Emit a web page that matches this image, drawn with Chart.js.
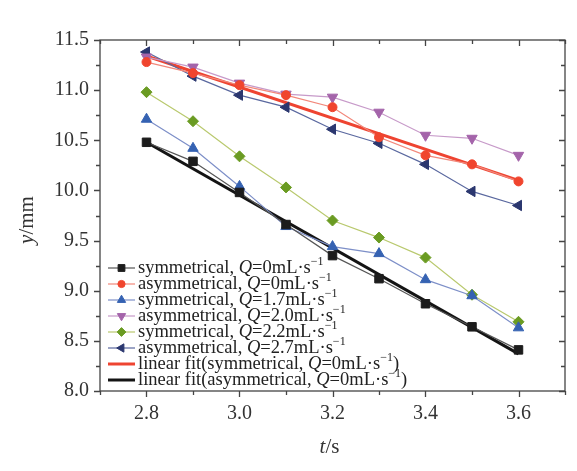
<!DOCTYPE html>
<html>
<head>
<meta charset="utf-8">
<script src="https://cdn.jsdelivr.net/npm/chart.js@4"></script>
<style>
  body { margin: 0; background: #fff; }
</style>
</head>
<body>
<canvas id="chart-0" width="577" height="471"></canvas>
<script>
// time axis (s)
var times = [2.8, 2.9, 3.0, 3.1, 3.2, 3.3, 3.4, 3.5, 3.6];
// y (mm) per case
var symQ0   = [10.48, 10.29, 9.98, 9.66, 9.35, 9.12, 8.87, 8.64, 8.41];
var asymQ0  = [11.28, 11.17, 11.05, 10.95, 10.83, 10.53, 10.35, 10.26, 10.09];
var symQ17  = [10.71, 10.42, 10.04, 9.64, 9.44, 9.37, 9.11, 8.95, 8.63];
var asymQ20 = [11.33, 11.23, 11.07, 10.96, 10.93, 10.78, 10.55, 10.52, 10.35];
var symQ22  = [10.98, 10.69, 10.34, 10.03, 9.70, 9.53, 9.33, 8.96, 8.69];
var asymQ27 = [11.38, 11.14, 10.95, 10.83, 10.61, 10.47, 10.26, 9.99, 9.85];
// linear fits, end points
var fitX    = [2.8, 3.6];
var fitSym  = [11.34, 10.10];
var fitAsym = [10.48, 8.37];

var seriesLabels = [
  "symmetrical, Q=0mL·s⁻¹",
  "asymmetrical, Q=0mL·s⁻¹",
  "symmetrical, Q=1.7mL·s⁻¹",
  "asymmetrical, Q=2.0mL·s⁻¹",
  "symmetrical, Q=2.2mL·s⁻¹",
  "asymmetrical, Q=2.7mL·s⁻¹",
  "linear fit(symmetrical, Q=0mL·s⁻¹)",
  "linear fit(asymmetrical, Q=0mL·s⁻¹)"
];

var SERIF = "'Liberation Serif', 'DejaVu Serif', serif";

function pts(xs, ys){
  return ys.map(function(y, i){ return {x: xs[i], y: y}; });
}

function markerSet(label, ys, lineCol, markCol, style, rot, r){
  return {
    label: label,
    data: pts(times, ys),
    showLine: true,
    borderColor: lineCol,
    borderWidth: 1.2,
    backgroundColor: markCol,
    pointBackgroundColor: markCol,
    pointBorderColor: markCol,
    pointBorderWidth: 1,
    pointStyle: style,
    pointRotation: rot || 0,
    pointRadius: r,
    tension: 0
  };
}

function fitSet(label, ys, col){
  return {
    label: label,
    data: pts(fitX, ys),
    showLine: true,
    borderColor: col,
    backgroundColor: col,
    borderWidth: 3,
    pointRadius: 0,
    isFit: true
  };
}

// text with italic Q / y / t and superscript -1
function splitRich(str){
  var out = [];
  str.split(/(Q|⁻¹|\by\b|\bt\b)/).forEach(function(p){
    if (!p) return;
    if (p === "⁻¹") out.push({t: "\u22121", sup: true});
    else if (p === "Q" || p === "y" || p === "t") out.push({t: p, italic: true});
    else out.push({t: p});
  });
  return out;
}

function setFont(ctx, p, size){
  ctx.font = (p.italic ? "italic " : "") + (p.sup ? Math.round(size * 0.65) : size) + "px " + SERIF;
}

function drawRich(ctx, str, x, y, size, align){
  var parts = splitRich(str);
  if (align === "center") {
    var w = 0;
    parts.forEach(function(p){ setFont(ctx, p, size); w += ctx.measureText(p.t).width; });
    x -= w / 2;
  }
  ctx.textBaseline = "middle";
  ctx.textAlign = "left";
  parts.forEach(function(p){
    setFont(ctx, p, size);
    ctx.fillText(p.t, x, p.sup ? y - size * 0.32 : y);
    x += ctx.measureText(p.t).width;
  });
}

var framePlugin = {
  id: "frame",
  afterDraw: function(chart){
    var ctx = chart.ctx, a = chart.chartArea;
    var xs = chart.scales.x, ys = chart.scales.y;
    ctx.save();
    ctx.strokeStyle = "#444";
    ctx.lineWidth = 1.3;
    ctx.strokeRect(a.left, a.top, a.right - a.left, a.bottom - a.top);
    ctx.beginPath();
    xs.ticks.forEach(function(t){
      var px = Math.round(xs.getPixelForValue(t.value)) + 0.5;
      var len = t.label !== "" ? 6 : 4;
      ctx.moveTo(px, a.bottom); ctx.lineTo(px, a.bottom + len);
      ctx.moveTo(px, a.top); ctx.lineTo(px, a.top + len);
    });
    ys.ticks.forEach(function(t){
      var py = Math.round(ys.getPixelForValue(t.value)) + 0.5;
      var len = t.label !== "" ? 6 : 4;
      ctx.moveTo(a.left - len, py); ctx.lineTo(a.left, py);
      ctx.moveTo(a.right - len, py); ctx.lineTo(a.right, py);
    });
    ctx.stroke();

    // axis titles
    ctx.fillStyle = "#333";
    drawRich(ctx, "t/s", (a.left + a.right) / 2 - 3, 447, 21, "center");
    ctx.save();
    ctx.translate(27, 220);
    ctx.rotate(-Math.PI / 2);
    drawRich(ctx, "y/mm", 0, 0, 21, "center");
    ctx.restore();

    // legend inside the plot
    var lx0 = 108, lx1 = 135, tx = 138, ly = 268, step = 16;
    chart.data.datasets.forEach(function(ds, i){
      var y = ly + i * step;
      ctx.strokeStyle = ds.borderColor;
      ctx.lineWidth = ds.isFit ? 3 : 1.2;
      ctx.beginPath();
      ctx.moveTo(lx0, y); ctx.lineTo(lx1, y);
      ctx.stroke();
      if (!ds.isFit) {
        ctx.fillStyle = ds.pointBackgroundColor;
        ctx.strokeStyle = ds.pointBorderColor;
        ctx.lineWidth = 1;
        Chart.helpers.drawPoint(ctx, {
          pointStyle: ds.pointStyle,
          rotation: ds.pointRotation,
          radius: ds.pointRadius * 0.8,
          borderWidth: 1
        }, (lx0 + lx1) / 2, y);
      }
      ctx.fillStyle = "#222";
      drawRich(ctx, ds.label, tx, y, 18.5);
    });
    ctx.restore();
  }
};

var datasets = [
  markerSet(seriesLabels[0], symQ0,   "#555555", "#1c1c1c", "rect", 0, 6),
  markerSet(seriesLabels[1], asymQ0,  "#f2877a", "#f0452e", "circle", 0, 4.5),
  markerSet(seriesLabels[2], symQ17,  "#7d8fc8", "#3562b2", "triangle", 0, 6),
  markerSet(seriesLabels[3], asymQ20, "#c79ac9", "#a464aa", "triangle", 180, 6),
  markerSet(seriesLabels[4], symQ22,  "#b9c96e", "#6a9b22", "rectRot", 0, 5.5),
  markerSet(seriesLabels[5], asymQ27, "#5a689f", "#2b376f", "triangle", 270, 6),
  fitSet(seriesLabels[6], fitSym,  "#ee4431"),
  fitSet(seriesLabels[7], fitAsym, "#141414")
];

new Chart(document.getElementById("chart-0"), {
  type: "scatter",
  data: { datasets: datasets },
  options: {
    responsive: false,
    animation: false,
    layout: { padding: { top: 40, right: 12, left: 0, bottom: 0 } },
    plugins: { legend: { display: false }, tooltip: { enabled: false } },
    scales: {
      x: {
        type: "linear",
        min: 2.7, max: 3.7,
        grid: { display: false, drawTicks: false },
        border: { display: false },
        ticks: {
          stepSize: 0.1,
          autoSkip: false,
          maxRotation: 0,
          padding: 11,
          color: "#333",
          font: { family: SERIF, size: 20 },
          callback: function(v){
            var r = Math.round(v * 10);
            return (r % 2 === 0 && r >= 28 && r <= 36) ? (r / 10).toFixed(1) : "";
          }
        },
        afterFit: function(s){ s.height = 80; }
      },
      y: {
        min: 8, max: 11.5,
        grid: { display: false, drawTicks: false },
        border: { display: false },
        ticks: {
          stepSize: 0.25,
          autoSkip: false,
          padding: 11,
          color: "#333",
          font: { family: SERIF, size: 20 },
          callback: function(v){
            var r = Math.round(v * 100);
            return (r % 50 === 0) ? (r / 100).toFixed(1) : "";
          }
        },
        afterFit: function(s){ s.width = 100; }
      }
    }
  },
  plugins: [framePlugin]
});
</script>
</body>
</html>
